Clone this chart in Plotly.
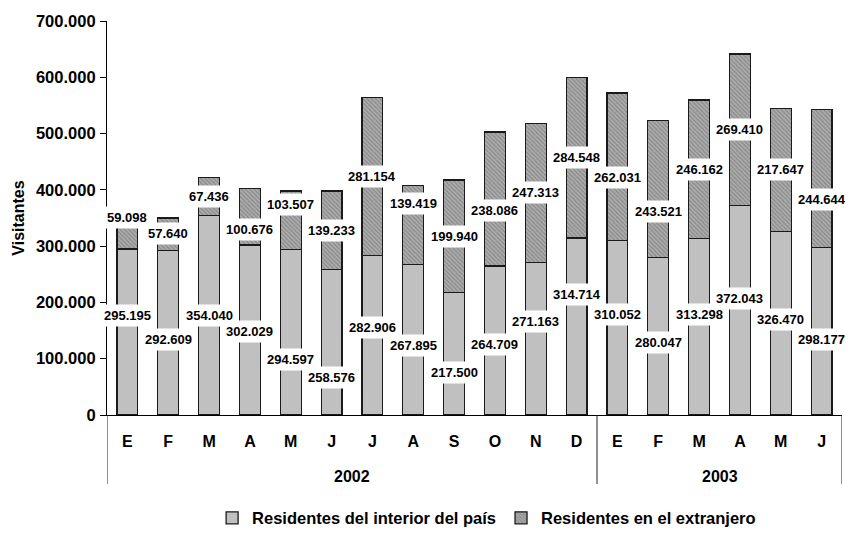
import plotly.graph_objects as go

# ---- data ----
months = ["E", "F", "M", "A", "M", "J", "J", "A", "S", "O", "N", "D",
          "E", "F", "M", "A", "M", "J"]
years = ["2002"] * 12 + ["2003"] * 6

interior = [295195, 292609, 354040, 302029, 294597, 258576, 282906, 267895,
            217500, 264709, 271163, 314714, 310052, 280047, 313298, 372043,
            326470, 298177]
extranjero = [59098, 57640, 67436, 100676, 103507, 139233, 281154, 139419,
              199940, 238086, 247313, 284548, 262031, 243521, 246162, 269410,
              217647, 244644]

# heights at which the (hand-placed) value labels sit in the original chart
label_h_interior = [176400, 134500, 176400, 148000, 99500, 67000, 155800,
                    123100, 75900, 126100, 165800, 214100, 178900, 129200,
                    178900, 207300, 170000, 134500]
label_h_extranjero = [350500, 321600, 387800, 328700, 374300, 327400, 423400,
                      375800, 316800, 363000, 395300, 457800, 421600, 361200,
                      436500, 507600, 436500, 383200]

y_ticks = [0, 100000, 200000, 300000, 400000, 500000, 600000, 700000]

series_names = ["Residentes del interior del país", "Residentes en el extranjero"]

FONT = "Liberation Sans, Arial, sans-serif"


def fmt(v):
    return f"{v:,}".replace(",", ".")


idx = list(range(len(months)))

fig = go.Figure()
fig.add_trace(go.Bar(
    x=idx, y=interior, name=series_names[0],
    marker=dict(color="#C0C0C0", line=dict(color="#1a1a1a", width=1.3)),
))
fig.add_trace(go.Bar(
    x=idx, y=extranjero, name=series_names[1],
    marker=dict(color="#A0A0A0", line=dict(color="#1a1a1a", width=1.3),
                pattern=dict(shape="\\", fgcolor="#666666", bgcolor="#AEAEAE",
                             size=3, solidity=0.45)),
))

annotations = []
for i in idx:
    for val, h in ((interior[i], label_h_interior[i]),
                   (extranjero[i], label_h_extranjero[i])):
        annotations.append(dict(
            x=i, y=h, xref="x", yref="y", text=fmt(val), showarrow=False,
            bgcolor="white", borderpad=3,
            font=dict(family=FONT, size=13, color="black", weight="bold"),
        ))

# year group labels and dividers (from the year list)
shapes = []
groups = []
for i, yr in enumerate(years):
    if not groups or groups[-1][0] != yr:
        groups.append([yr, i, i])
    else:
        groups[-1][2] = i
for yr, a, b in groups:
    annotations.append(dict(
        x=(a + b) / 2, y=-0.155, xref="x", yref="paper", text=yr,
        showarrow=False, yanchor="middle",
        font=dict(family=FONT, size=16, color="black", weight="bold"),
    ))
bounds = [g[1] - 0.5 for g in groups] + [groups[-1][2] + 0.5]
for bx in bounds:
    shapes.append(dict(type="line", xref="x", yref="paper", x0=bx, x1=bx,
                       y0=0, y1=-0.175, line=dict(color="#222222", width=1)))

fig.update_layout(
    width=851, height=538,
    margin=dict(l=107, r=9, t=21, b=123),
    paper_bgcolor="white", plot_bgcolor="white",
    barmode="stack", bargap=0.49,
    font=dict(family=FONT, size=16, color="black", weight="bold"),
    showlegend=True,
    legend=dict(orientation="h", x=0.143, xanchor="left",
                yref="container", y=0.037, yanchor="middle",
                font=dict(family=FONT, size=16.5, weight="bold"),
                itemwidth=30, traceorder="normal"),
    annotations=annotations,
    shapes=shapes,
)

fig.update_yaxes(
    range=[0, 700000], tickvals=y_ticks,
    ticktext=[fmt(v) for v in y_ticks],
    showline=True, linecolor="black", linewidth=1.2,
    ticks="outside", ticklen=6, tickcolor="black", tickwidth=1.2,
    showgrid=False, zeroline=False, automargin=False,
    ticklabelstandoff=1,
    tickfont=dict(family=FONT, size=16.5, weight="bold"),
    title=dict(text="Visitantes", standoff=7,
               font=dict(family=FONT, size=16, weight="bold")),
)
fig.update_xaxes(
    range=[-0.5, len(months) - 0.5],
    tickvals=idx, ticktext=months,
    showline=True, linecolor="black", linewidth=1.2,
    showgrid=False, ticks="", zeroline=False, automargin=False,
    ticklabelstandoff=12,
    tickfont=dict(family=FONT, size=16, weight="bold"),
)

fig.write_html(
    "out.html",
    config={"displayModeBar": False},
    post_script="document.body.style.margin='0';document.body.style.overflow='hidden';",
)
